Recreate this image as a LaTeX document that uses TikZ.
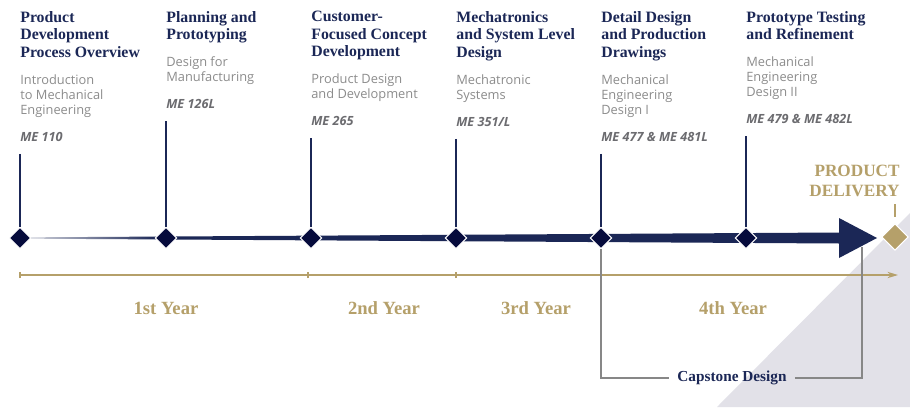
\documentclass[tikz,border=0pt]{standalone}
\usepackage{fontspec}
\setmainfont{Liberation Serif}
\setsansfont{Open Sans}
\definecolor{navy}{RGB}{27, 39, 86}
\definecolor{inkblue}{RGB}{6, 11, 60}
\definecolor{gold}{RGB}{181, 160, 106}
\definecolor{stone}{RGB}{140, 140, 140}
\definecolor{slate}{RGB}{108, 108, 112}
\definecolor{rule}{RGB}{135, 135, 135}
\definecolor{haze}{RGB}{226, 225, 232}
\usepackage{tikz}
\usetikzlibrary{shapes.geometric, arrows.meta, positioning, calc}

% fonts for the three parts of a stage
\newcommand{\stagehead}{\fontsize{9}{10}\selectfont\bfseries\color{navy}}
\newcommand{\stagecourse}{\sffamily\fontsize{7.3}{8.5}\selectfont\color{stone}}
\newcommand{\stagecode}{\sffamily\fontsize{7.2}{8.5}\selectfont\bfseries\itshape\color{slate}}

% light start of the timeline, full navy after the first stage
\pgfdeclarehorizontalshading{taper}{100bp}{color(0bp)=(navy!15); color(25bp)=(navy!15); color(33bp)=(navy); color(100bp)=(navy)}

\begin{document}
\begin{tikzpicture}[x=0.02cm, y=0.02cm,
  stage/.style={anchor=north west, inner sep=0pt, text width=2.8cm, align=flush left},
  mstone/.style={diamond, fill=inkblue, draw=white, line width=0.6pt, inner sep=0pt, minimum size=0.43cm},
  stem/.style={navy, line width=0.6pt},
  year/.style={gold, font=\fontsize{10.6}{12}\selectfont\bfseries, anchor=base},
  bracket/.style={rule, line width=0.6pt}
]
  \path[fill=white, use as bounding box] (0,0) rectangle (910,407);
  \fill[haze] (717,0) -- (910,0) -- (910,194) -- cycle;

  % milestone positions
  \foreach \x [count=\i] in {20,166,311,456,601,746}
    \coordinate (p\i) at (\x,169);
  \coordinate (tip) at (877,169);

  % tapering timeline arrow
  \shade[shading=taper] ($(p1)+(0,0.6)$) -- ($(tip)+(-38,5.5)$) -- ($(tip)+(-38,20)$) -- (tip)
    -- ($(tip)+(-38,-20)$) -- ($(tip)+(-38,-5.5)$) -- ($(p1)+(0,-0.6)$) -- cycle;

  \foreach \i in {1,...,6}
    \node[mstone] (d\i) at (p\i) {};

  % stages
  \node[stage] (s1) at (20,396) {{\stagehead Product\\Development\\Process Overview\par}\vspace{6.8pt}{\stagecourse Introduction\\to Mechanical\\Engineering\par}\vspace{6.8pt}{\stagecode ME 110\par}};
  \node[stage] (s2) at (166,396) {{\stagehead Planning and\\Prototyping\par}\vspace{6.8pt}{\stagecourse Design for\\Manufacturing\par}\vspace{6.8pt}{\stagecode ME 126L\par}};
  \node[stage] (s3) at (311,396) {{\stagehead Customer-\\Focused Concept\\Development\par}\vspace{6.8pt}{\stagecourse Product Design\\and Development\par}\vspace{6.8pt}{\stagecode ME 265\par}};
  \node[stage] (s4) at (456,396) {{\stagehead Mechatronics\\and System Level\\Design\par}\vspace{6.8pt}{\stagecourse Mechatronic\\Systems\par}\vspace{6.8pt}{\stagecode ME 351/L\par}};
  \node[stage] (s5) at (601,396) {{\stagehead Detail Design\\and Production\\Drawings\par}\vspace{6.8pt}{\stagecourse Mechanical\\Engineering\\Design I\par}\vspace{6.8pt}{\stagecode ME 477 \& ME 481L\par}};
  \node[stage] (s6) at (746,396) {{\stagehead Prototype Testing\\and Refinement\par}\vspace{6.8pt}{\stagecourse Mechanical\\Engineering\\Design II\par}\vspace{6.8pt}{\stagecode ME 479 \& ME 482L\par}};

  \foreach \i in {1,...,6}
    \draw[stem] ([yshift=-7pt]s\i.south west) -- (d\i.north);

  % delivery
  \node[diamond, fill=gold, draw=white, line width=0.6pt, inner sep=0pt, minimum size=0.53cm] (dg) at (895,170) {};
  \node[anchor=south east, inner sep=0pt, align=right, gold, font=\fontsize{9.8}{11.3}\selectfont\bfseries] (deliv) at (900,210) {PRODUCT\\DELIVERY};
  \draw[gold, line width=0.6pt, shorten <=4pt, shorten >=3.4pt] (dg.north |- deliv.south) -- (dg.north);

  % years axis
  \coordinate (ax0) at (20,132);
  \coordinate (ax1) at (898,132);
  \draw[gold, line width=0.7pt, -{Stealth[length=6pt, width=3.6pt]}] (ax0) -- (ax1);
  \foreach \x in {20,308,456,601}
    \draw[gold, line width=0.7pt] (\x,129) -- (\x,135);
  \node[year] at (166,93) {1st Year};
  \node[year] at (384,93) {2nd Year};
  \node[year] at (536,93) {3rd Year};
  \node[year] at (733,93) {4th Year};

  % capstone bracket
  \node[navy, inner xsep=4.5pt, inner ysep=0pt, font=\fontsize{8.7}{10}\selectfont\bfseries] (cap) at (732,29) {Capstone Design};
  \coordinate (capR) at (862,160);
  \draw[bracket] (d5.south) |- (cap.west);
  \draw[bracket] (cap.east) -| (capR);
\end{tikzpicture}
\end{document}
